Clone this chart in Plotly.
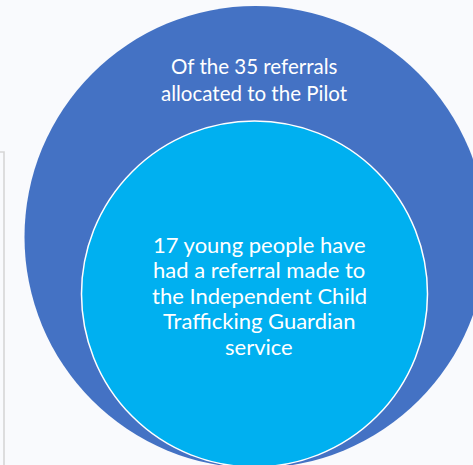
import plotly.graph_objects as go

# Data
outer_lines = ["Of the 35 referrals", "allocated to the Pilot"]
inner_lines = ["17 young people have", "had a referral made to",
               "the Independent Child", "Trafficking Guardian", "service"]
referrals_total = 35
referred_icg = 17

W, H = 473, 465
outer = dict(cx=255.5, cy=237, r=231)
inner = dict(cx=254.5, cy=294, r=173)

fig = go.Figure()
fig.add_trace(go.Scatter(x=[0, W], y=[0, H], mode="markers", marker=dict(opacity=0),
                         hoverinfo="skip", showlegend=False))

# side panel border (partial rectangle at left)
fig.add_shape(type="rect", x0=-50, y0=152, x1=4, y1=H + 20, xref="x", yref="y",
              line=dict(color="#d6d6d6", width=1.6), fillcolor="rgba(0,0,0,0)", layer="below")

# outer circle
fig.add_shape(type="circle", xref="x", yref="y",
              x0=outer["cx"] - outer["r"], x1=outer["cx"] + outer["r"],
              y0=outer["cy"] - outer["r"], y1=outer["cy"] + outer["r"],
              fillcolor="#4472C4", line=dict(width=0))
# inner circle
fig.add_shape(type="circle", xref="x", yref="y",
              x0=inner["cx"] - inner["r"], x1=inner["cx"] + inner["r"],
              y0=inner["cy"] - inner["r"], y1=inner["cy"] + inner["r"],
              fillcolor="#00B0F0", line=dict(width=1.5, color="white"))

for i, t in enumerate(outer_lines):
    fig.add_annotation(x=254, y=66 + 27 * i, xref="x", yref="y", text=t, showarrow=False,
                       yanchor="middle", font=dict(family="Lato", size=20.5, color="white"))
for i, t in enumerate(inner_lines):
    fig.add_annotation(x=259, y=244 + 25.5 * i, xref="x", yref="y", text=t, showarrow=False,
                       yanchor="middle", font=dict(family="Lato", size=22, color="white"))

fig.update_xaxes(range=[0, W], visible=False, fixedrange=True)
fig.update_yaxes(range=[H, 0], visible=False, fixedrange=True)
fig.update_layout(width=W, height=H, margin=dict(l=0, r=0, t=0, b=0),
                  paper_bgcolor="#F9FAFD", plot_bgcolor="#F9FAFD", showlegend=False)
fig.write_html("out.html", config={"displayModeBar": False},
               post_script="document.body.style.margin='0';document.body.style.background='#F9FAFD';")
